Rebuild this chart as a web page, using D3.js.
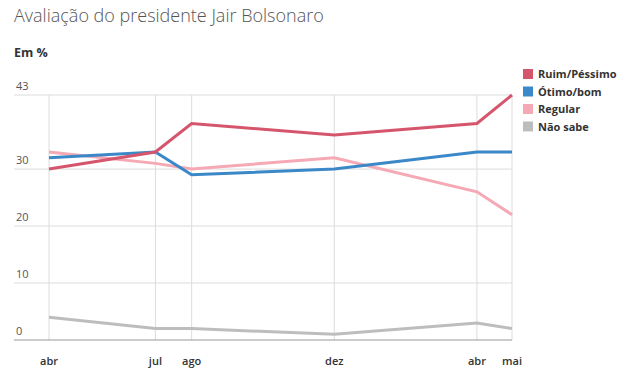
<!DOCTYPE html>
<html lang="pt">
<head>
<meta charset="UTF-8">
<script src="https://unpkg.com/d3@7/dist/d3.min.js"></script>
<style>
  body { margin: 0; background: #fff; font-family: "Open Sans", "Noto Sans", sans-serif; }
</style>
</head>
<body>
<script>
// Pesquisas (mês de referência)
var dates = ["2019-04-01", "2019-07-01", "2019-08-01", "2019-12-01", "2020-04-01", "2020-05-01"];
var tickLabels = ["abr", "jul", "ago", "dez", "abr", "mai"];
var seriesNames = ["Ruim/Péssimo", "Ótimo/bom", "Regular", "Não sabe"];
var ruimPessimo = [30, 33, 38, 36, 38, 43];
var otimoBom = [32, 33, 29, 30, 33, 33];
var regular = [33, 31, 30, 32, 26, 22];
var naoSabe = [4, 2, 2, 1, 3, 2];
var yTicks = [0, 10, 20, 30, 43];
var colors = ["#d5566c", "#3b88c9", "#f5a9b4", "#bdbdbd"];

var parse = d3.timeParse("%Y-%m-%d");
var xDates = dates.map(parse);
var series = [ruimPessimo, otimoBom, regular, naoSabe];

var W = 632, H = 384;
var svg = d3.select("body").append("svg")
    .attr("width", W)
    .attr("height", H);

var x = d3.scaleTime()
    .domain([xDates[0], xDates[xDates.length - 1]])
    .range([49, 512]);
var y = d3.scaleLinear()
    .domain([0, 43])
    .range([340, 95]);

// Title
svg.append("text")
    .attr("x", 14).attr("y", 22)
    .style("font-size", "18px")
    .style("fill", "#555")
    .style("font-weight", 300)
    .text("Avaliação do presidente Jair Bolsonaro");

svg.append("text")
    .attr("x", 14).attr("y", 57)
    .style("font-size", "12.5px")
    .style("font-weight", "bold")
    .style("fill", "#333")
    .text("Em %");

// horizontal grid
svg.append("g").selectAll("line")
    .data(yTicks.filter(function(d) { return d > 0; }))
    .enter().append("line")
    .attr("x1", 14).attr("x2", 512)
    .attr("y1", function(d) { return y(d); })
    .attr("y2", function(d) { return y(d); })
    .attr("stroke", "#dcdcdc");

// vertical grid
svg.append("g").selectAll("line")
    .data(xDates)
    .enter().append("line")
    .attr("x1", function(d) { return x(d); })
    .attr("x2", function(d) { return x(d); })
    .attr("y1", y(43)).attr("y2", y(0))
    .attr("stroke", "#dcdcdc");

// baseline
svg.append("line")
    .attr("x1", 14).attr("x2", 512)
    .attr("y1", y(0)).attr("y2", y(0))
    .attr("stroke", "#999");

// y labels
svg.append("g").selectAll("text")
    .data(yTicks)
    .enter().append("text")
    .attr("x", 16)
    .attr("y", function(d) { return y(d) - 5; })
    .style("font-size", "11px")
    .style("fill", "#555")
    .text(function(d) { return d; });

// x labels
svg.append("g").selectAll("text")
    .data(xDates)
    .enter().append("text")
    .attr("x", function(d) { return x(d); })
    .attr("y", 365)
    .attr("text-anchor", "middle")
    .style("font-size", "11px")
    .style("font-weight", 600)
    .style("fill", "#333")
    .text(function(d, i) { return tickLabels[i]; });

// lines (draw Não sabe first, Ruim last)
var line = d3.line()
    .x(function(d, i) { return x(xDates[i]); })
    .y(function(d) { return y(d); });

var order = [3, 2, 1, 0];
svg.append("g").selectAll("path")
    .data(order)
    .enter().append("path")
    .attr("d", function(k) { return line(series[k]); })
    .attr("fill", "none")
    .attr("stroke", function(k) { return colors[k]; })
    .attr("stroke-width", 3);

// legend
var legend = svg.append("g").selectAll("g")
    .data(seriesNames)
    .enter().append("g")
    .attr("transform", function(d, i) { return "translate(523," + (69 + i * 17.5) + ")"; });

legend.append("rect")
    .attr("width", 10).attr("height", 10)
    .attr("fill", function(d, i) { return colors[i]; });

legend.append("text")
    .attr("x", 15).attr("y", 9)
    .style("font-size", "11px")
    .style("font-weight", "bold")
    .style("fill", "#333")
    .text(function(d) { return d; });
</script>
</body>
</html>
